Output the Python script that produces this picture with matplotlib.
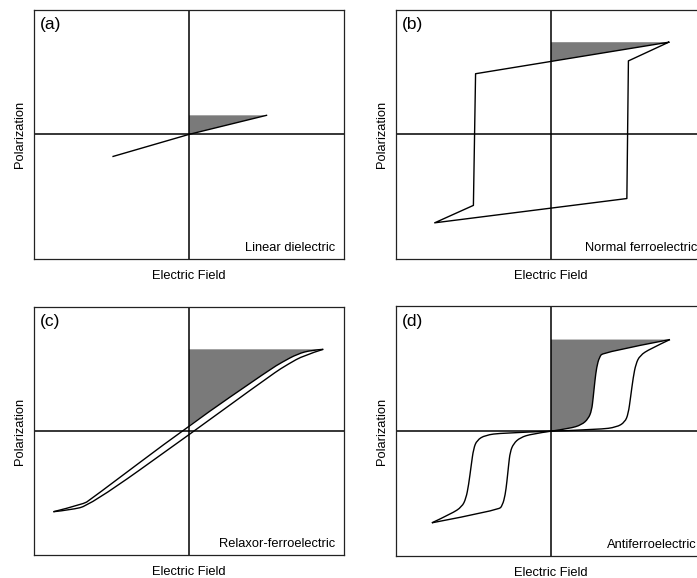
import matplotlib.pyplot as plt
import numpy as np
from matplotlib.path import Path
from matplotlib.patches import PathPatch

plt.rcParams['font.family'] = ['Liberation Sans', 'DejaVu Sans']

# (a) linear dielectric
lin_x = [-0.49, 0.0, 0.50]
lin_y = [-0.177, 0.0, 0.153]

# (b) normal ferroelectric loop
fe_x = [0.76, 0.50, 0.49, -0.75, -0.50, -0.486, 0.76]
fe_y = [0.74, 0.59, -0.515, -0.71, -0.57, 0.487, 0.74]

# (c) relaxor: descending branch then ascending branch
rel_down_x = [0.866, 0.790, 0.700, 0.600, 0.523, 0.0, -0.639, -0.682, -0.875]
rel_down_y = [0.659, 0.652, 0.622, 0.555, 0.497, 0.045, -0.556, -0.590, -0.651]
rel_up_x = [-0.875, -0.768, -0.639, -0.005, 0.544, 0.640, 0.740, 0.866]
rel_up_y = [-0.651, -0.637, -0.600, -0.035, 0.465, 0.540, 0.610, 0.659]

# (d) antiferroelectric, first quadrant (third quadrant by symmetry)
afe_down_x = [0.768, 0.337, 0.312, 0.295, 0.284, 0.273, 0.263, 0.241, 0.198, 0.123, 0.0]
afe_down_y = [0.734, 0.632, 0.592, 0.512, 0.406, 0.272, 0.166, 0.099, 0.051, 0.022, 0.0]
afe_up_x = [0.0, 0.316, 0.424, 0.477, 0.499, 0.514, 0.531, 0.548, 0.574, 0.639, 0.768]
afe_up_y = [0.0, 0.014, 0.032, 0.072, 0.139, 0.272, 0.432, 0.539, 0.606, 0.659, 0.734]

panels = ['(a)', '(b)', '(c)', '(d)']
names = ['Linear dielectric', 'Normal ferroelectric',
         'Relaxor-ferroelectric', 'Antiferroelectric']


def smooth(xs, ys, close_to=None):
    # quadratic bezier through midpoints, ends kept as given
    pts = np.column_stack([xs, ys])
    verts = [pts[0]]
    codes = [Path.MOVETO]
    for i in range(1, len(pts) - 1):
        end = pts[i + 1] if i == len(pts) - 2 else (pts[i] + pts[i + 1]) / 2
        verts += [pts[i], end]
        codes += [Path.CURVE3, Path.CURVE3]
    if len(pts) == 2:
        verts.append(pts[1])
        codes.append(Path.LINETO)
    if close_to is not None:
        for p in close_to:
            verts.append(p)
            codes.append(Path.LINETO)
        verts.append(pts[0])
        codes.append(Path.CLOSEPOLY)
    return Path(verts, codes)


fig = plt.figure(figsize=(6.97, 5.78), dpi=100)
w, h = 0.4448, 0.431
pos = [[0.0488, 0.552, w, h], [0.568, 0.552, w, h],
       [0.0488, 0.0398, w, 0.429], [0.568, 0.038, w, 0.432]]
axes = [fig.add_axes(p) for p in pos]

shade = '#7a7a7a'
lc = 'black'
lw = 1.0
fs = 9.3

for ax, p, n in zip(axes, panels, names):
    ax.set_xlim(-1, 1)
    ax.set_ylim(-1, 1)
    ax.set_xticks([])
    ax.set_yticks([])
    for s in ax.spines.values():
        s.set_linewidth(0.9)
        s.set_color('#222222')
    ax.axhline(0, color=lc, lw=1.1)
    ax.axvline(0, color=lc, lw=1.1)
    ax.text(0.02, 0.97, p, transform=ax.transAxes, fontsize=12.5,
            ha='left', va='top')
    ax.text(0.971, 0.045, n, transform=ax.transAxes, fontsize=fs,
            ha='right', va='center')
    ax.set_xlabel('Electric Field', fontsize=fs, labelpad=8)
    ax.set_ylabel('Polarization', fontsize=fs, labelpad=6)

# (a)
ax = axes[0]
ax.fill([0, lin_x[2], 0], [0, lin_y[2], lin_y[2]], color=shade, lw=0)
ax.plot(lin_x, lin_y, color=lc, lw=lw)

# (b)
ax = axes[1]
y0 = np.interp(0, [fe_x[5], fe_x[6]], [fe_y[5], fe_y[6]])
ax.fill([0, fe_x[0], 0], [y0, fe_y[0], fe_y[0]], color=shade, lw=0)
ax.plot(fe_x, fe_y, color=lc, lw=lw)

# (c)
ax = axes[2]
k = rel_down_x.index(0.0) + 1
ax.add_patch(PathPatch(smooth(rel_down_x[:k], rel_down_y[:k],
                              close_to=[(0, rel_down_y[0])]),
                       facecolor=shade, lw=0))
ax.add_patch(PathPatch(smooth(rel_down_x, rel_down_y), fill=False,
                       edgecolor=lc, lw=lw))
ax.add_patch(PathPatch(smooth(rel_up_x, rel_up_y), fill=False,
                       edgecolor=lc, lw=lw))

# (d)
ax = axes[3]
ax.add_patch(PathPatch(smooth(afe_down_x, afe_down_y,
                              close_to=[(0, afe_down_y[0])]),
                       facecolor=shade, lw=0))
for sx in (1, -1):
    ax.add_patch(PathPatch(smooth(sx * np.array(afe_down_x),
                                  sx * np.array(afe_down_y)),
                           fill=False, edgecolor=lc, lw=lw))
    ax.add_patch(PathPatch(smooth(sx * np.array(afe_up_x),
                                  sx * np.array(afe_up_y)),
                           fill=False, edgecolor=lc, lw=lw))

fig.savefig('out.png', dpi=100)
